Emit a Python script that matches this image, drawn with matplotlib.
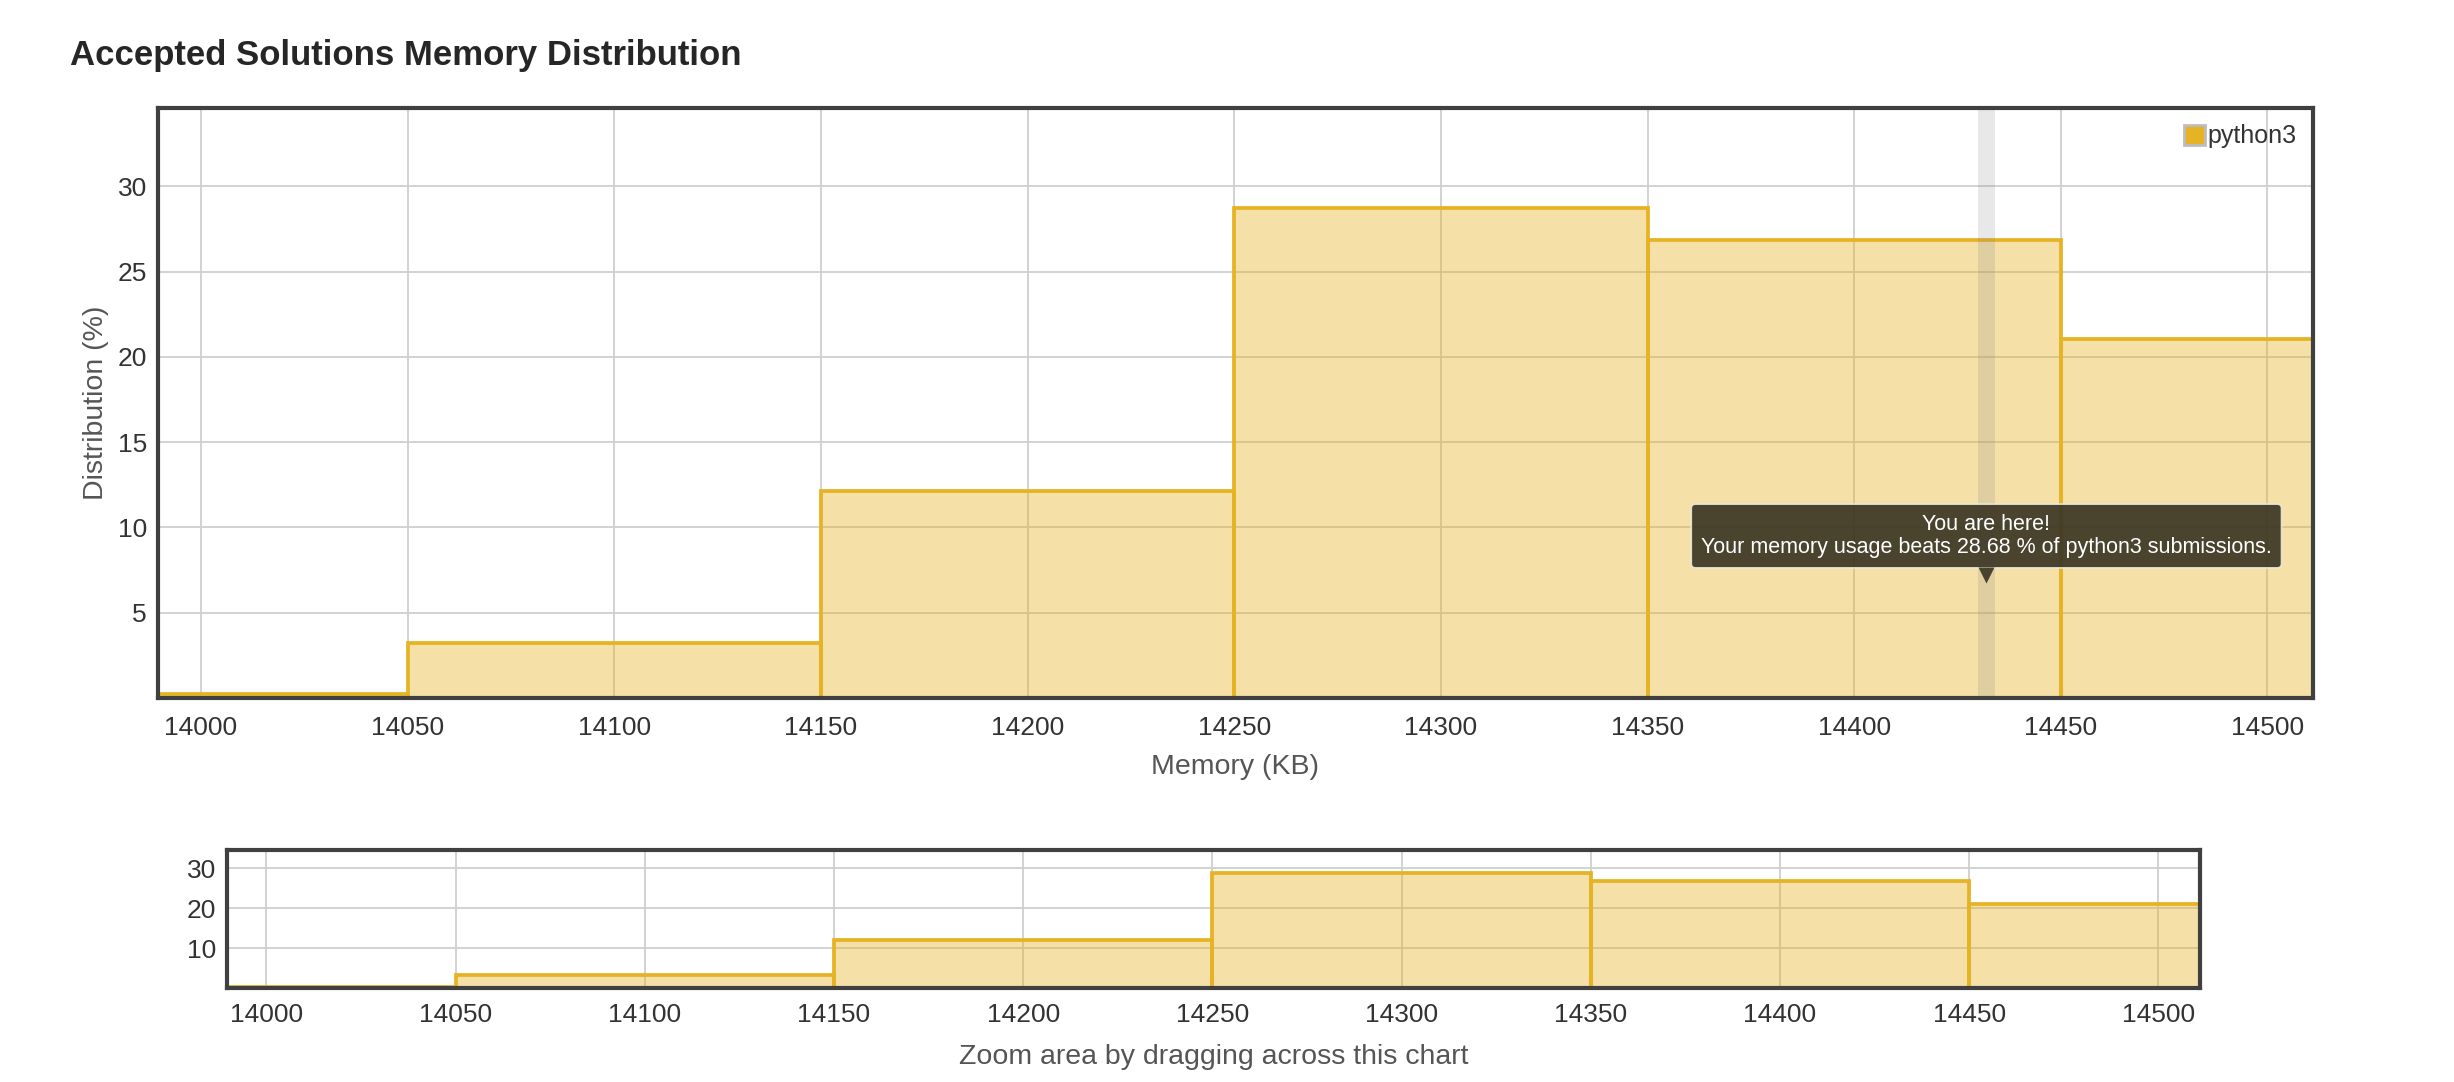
"""LeetCode-style accepted solutions memory histogram, with navigator strip."""
import numpy as np
import matplotlib

matplotlib.use("Agg")
import matplotlib.pyplot as plt
from matplotlib.colors import to_rgba
from matplotlib.patches import Patch

# data
bin_left = [13950, 14050, 14150, 14250, 14350, 14450]
bin_width = 100
dist_pct = [0.26, 3.25, 12.15, 28.75, 26.85, 21.05]
xticks = [14000, 14050, 14100, 14150, 14200, 14250, 14300, 14350, 14400, 14450, 14500]
main_yticks = [5, 10, 15, 20, 25, 30]
nav_yticks = [10, 20, 30]
you_kb = 14432
you_band = 4
beats_pct = 28.68
lang = "python3"

XLIM = (13989.6, 14511)
YLIM = (0, 34.6)

GOLD = "#e6b325"
FILL = to_rgba(GOLD, 0.40)
FRAME = "#404040"
GRID = "#cfcfcf"
TXT = "#333333"
LBL = "#555555"
TIP = "#3b3624"

plt.rcParams["font.family"] = ["Liberation Sans", "DejaVu Sans"]

fig = plt.figure(figsize=(24.54, 10.82), dpi=100)
ax = fig.add_axes([0.0644, 0.3549, 0.8781, 0.5453])
nav = fig.add_axes([0.0925, 0.0869, 0.8040, 0.1275])


def style(a, yt, xpad, ypad):
    a.bar(bin_left, dist_pct, width=bin_width, align="edge",
          facecolor=FILL, edgecolor=GOLD, linewidth=2.7, zorder=2)
    a.set_xlim(*XLIM)
    a.set_ylim(*YLIM)
    a.set_xticks(xticks)
    a.set_yticks(yt)
    a.grid(True, color=GRID, lw=1.3)
    a.set_axisbelow(True)
    a.tick_params(length=0, labelsize=19, labelcolor=TXT)
    a.tick_params(axis="x", pad=xpad)
    a.tick_params(axis="y", pad=ypad)
    for s in a.spines.values():
        s.set_color(FRAME)
        s.set_linewidth(3)
        s.set_zorder(5)


style(ax, main_yticks, 13, 8)
style(nav, nav_yticks, 11, 8)

# "you are here" band + tooltip
ax.axvspan(you_kb - you_band / 2, you_kb + you_band / 2,
           color="#808080", alpha=0.18, lw=0, zorder=3)
ax.text(you_kb, 9.5,
        f"You are here!\nYour memory usage beats {beats_pct:.2f} % of {lang} submissions.",
        ha="center", va="center", fontsize=15.5, color="white", linespacing=1.15,
        zorder=6,
        bbox=dict(boxstyle="round,pad=0.45,rounding_size=0.2",
                  facecolor=TIP, edgecolor="#ece8dc", lw=1.2, alpha=0.92))
ax.plot([you_kb], [7.2], marker="v", ms=11, color=TIP, alpha=0.92,
        mec="none", zorder=6)

leg = ax.legend(handles=[Patch(facecolor=GOLD, edgecolor="#bdbdbd", lw=2, label=lang)],
                loc="upper right", frameon=False, fontsize=18,
                handlelength=0.85, handleheight=0.85, handletextpad=0.1,
                borderaxespad=0.25, labelcolor=TXT)
leg.set_zorder(7)

ax.set_xlabel("Memory (KB)", fontsize=20.5, color=LBL, labelpad=10)
ax.set_ylabel("Distribution (%)", fontsize=20.5, color=LBL, labelpad=6)
nav.set_xlabel("Zoom area by dragging across this chart", fontsize=20.5,
               color=LBL, labelpad=12)

fig.text(0.0285, 0.949, "Accepted Solutions Memory Distribution",
         fontsize=25, fontweight="bold", color="#262626", va="center")

fig.savefig("out.png", dpi=100, facecolor="white")
